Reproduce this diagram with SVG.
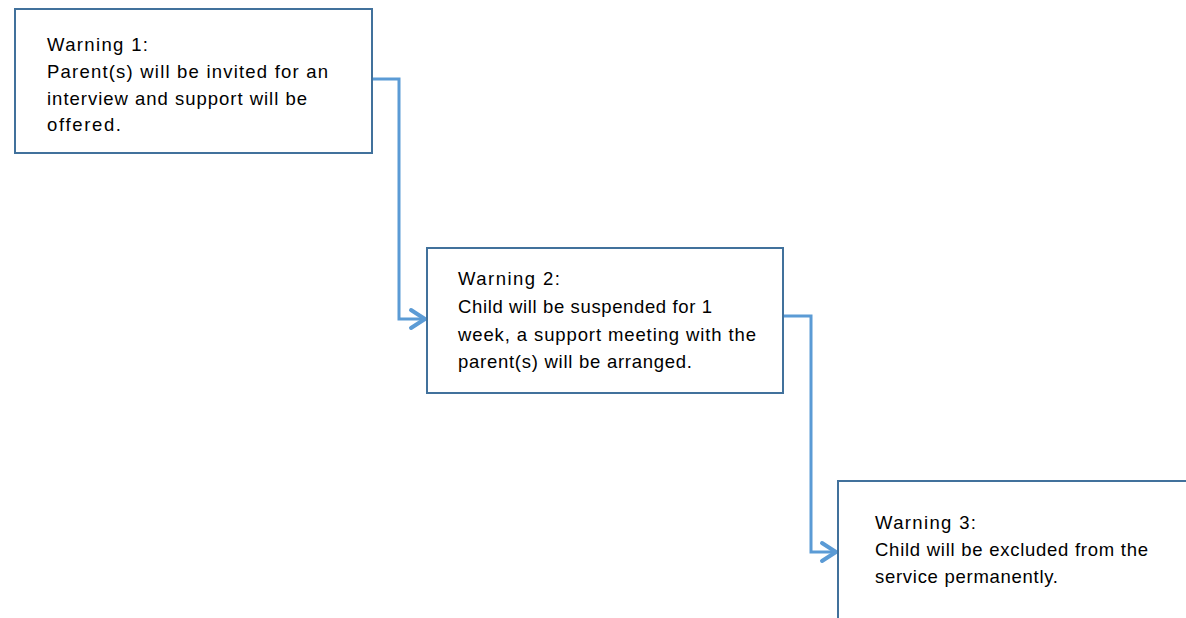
<svg xmlns="http://www.w3.org/2000/svg" width="1186" height="618" viewBox="0 0 1186 618">
<style>
.box{fill:#fff;stroke:#41719C;stroke-width:2}
.t{font-family:"Liberation Sans",Arial,sans-serif;font-size:18.5px;fill:#000}
.c{fill:none;stroke:#5B9BD5;stroke-width:3}
</style>
<defs>
<marker id="arr" markerWidth="22" markerHeight="24" refX="17" refY="12" orient="auto" markerUnits="userSpaceOnUse" overflow="visible">
<path d="M3,3 L17,12 L3,21" fill="none" stroke="#5B9BD5" stroke-width="4" stroke-linecap="round" stroke-linejoin="miter"/>
</marker>
</defs>
<rect width="1186" height="618" fill="#fff"/>
<g id="connectors">
<path class="c" d="M372,79 H399 V319 H425" marker-end="url(#arr)"/>
<path class="c" d="M783,316 H811 V552 H836" marker-end="url(#arr)"/>
</g>
<g id="n1">
<rect class="box" x="15" y="9" width="357" height="144"/>
<text class="t" x="47" y="51" textLength="101">Warning 1:</text>
<text class="t" x="47" y="78" textLength="281">Parent(s) will be invited for an</text>
<text class="t" x="47" y="105" textLength="260">interview and support will be</text>
<text class="t" x="47" y="131" textLength="74">offered.</text>
</g>
<g id="n2">
<rect class="box" x="427" y="248" width="356" height="145"/>
<text class="t" x="458" y="285" textLength="102">Warning 2:</text>
<text class="t" x="458" y="313" textLength="254">Child will be suspended for 1</text>
<text class="t" x="458" y="341" textLength="298">week, a support meeting with the</text>
<text class="t" x="458" y="368" textLength="234">parent(s) will be arranged.</text>
</g>
<g id="n3">
<rect class="box" x="838" y="481" width="360" height="150"/>
<text class="t" x="875" y="529" textLength="101">Warning 3:</text>
<text class="t" x="875" y="556" textLength="273">Child will be excluded from the</text>
<text class="t" x="875" y="583" textLength="183">service permanently.</text>
</g>
</svg>
